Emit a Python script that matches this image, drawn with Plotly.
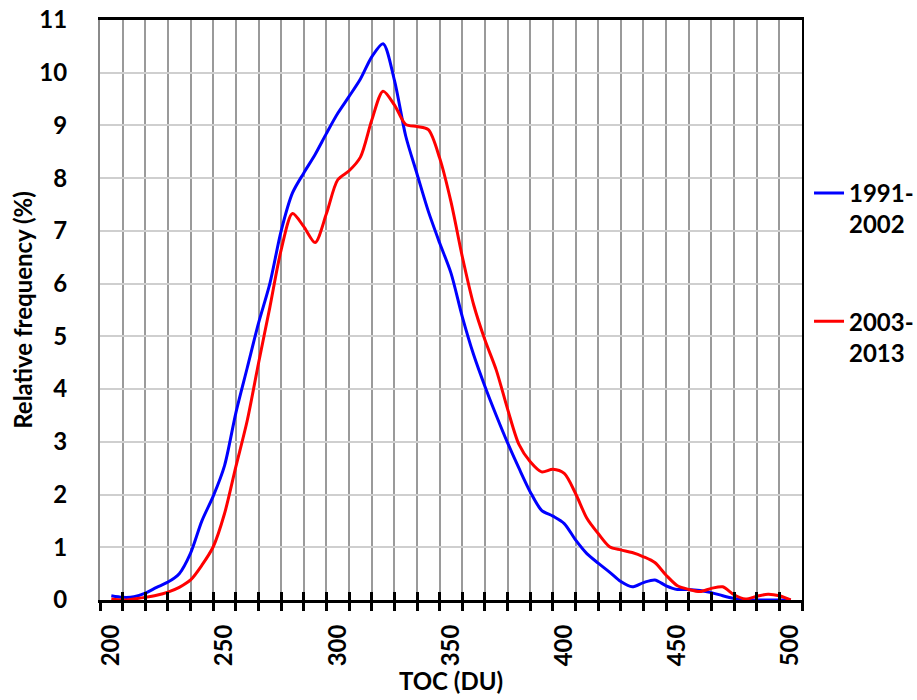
import plotly.graph_objects as go

toc = list(range(200, 505, 5))

freq_1991_2002 = [0.08, 0.05, 0.06, 0.13, 0.24, 0.34, 0.50, 0.89, 1.50, 1.97,
                  2.55, 3.55, 4.40, 5.25, 6.00, 7.00, 7.72, 8.10, 8.45, 8.85,
                  9.23, 9.55, 9.88, 10.30, 10.55, 9.86, 8.80, 8.08, 7.37, 6.77,
                  6.20, 5.37, 4.65, 4.05, 3.50, 2.98, 2.50, 2.05, 1.70, 1.59,
                  1.45, 1.14, 0.88, 0.70, 0.53, 0.35, 0.25, 0.33, 0.38, 0.27,
                  0.20, 0.20, 0.18, 0.14, 0.08, 0.03, 0.00, 0.00, 0.00, 0.00, 0.00]

freq_2003_2013 = [0.02, 0.00, 0.02, 0.05, 0.09, 0.15, 0.24, 0.38, 0.66, 1.01,
                  1.64, 2.53, 3.40, 4.49, 5.55, 6.64, 7.33, 7.08, 6.78, 7.33,
                  7.97, 8.14, 8.40, 9.10, 9.65, 9.39, 9.02, 8.98, 8.92, 8.38,
                  7.55, 6.51, 5.60, 4.93, 4.36, 3.62, 2.95, 2.62, 2.43, 2.48,
                  2.40, 2.02, 1.55, 1.26, 1.01, 0.95, 0.90, 0.82, 0.71, 0.47,
                  0.27, 0.20, 0.16, 0.22, 0.25, 0.10, 0.02, 0.07, 0.11, 0.08, 0.00]

x_labels = [200, 250, 300, 350, 400, 450, 500]

FONT = "Lato"
BOLD = dict(family=FONT, size=24, color="black", weight="bold")

fig = go.Figure()
fig.add_trace(go.Scatter(x=toc, y=freq_1991_2002, mode="lines", name="1991-<br>2002",
                         line=dict(color="#0000FF", width=3, shape="spline", smoothing=0.8),
                         legendgroup="a", xaxis="x", yaxis="y"))
fig.add_trace(go.Scatter(x=toc, y=freq_2003_2013, mode="lines", name="2003-<br>2013",
                         line=dict(color="#FF0000", width=3, shape="spline", smoothing=0.8),
                         legendgroup="b", xaxis="x2", yaxis="y2"))

fig.update_layout(
    width=917, height=700,
    margin=dict(l=100, r=115, t=20, b=100, autoexpand=False),
    paper_bgcolor="white", plot_bgcolor="white",
    font=BOLD,
    showlegend=True,
    legend=dict(x=1.01, xanchor="left", y=0.74, yanchor="top", valign="top",
                tracegroupgap=63, font=BOLD,
                bgcolor="rgba(0,0,0,0)", borderwidth=0),
    xaxis=dict(range=[195, 505], tickmode="array", tickvals=x_labels,
               ticktext=[str(v) for v in x_labels], tickangle=-90,
               ticks="outside", ticklen=12, tickcolor="rgba(0,0,0,0)",
               showgrid=False, tickfont=BOLD,
               minor=dict(tickmode="linear", tick0=195, dtick=10, ticks="outside",
                          ticklen=8, tickwidth=3, tickcolor="black",
                          showgrid=True, gridcolor="#9a9a9a", gridwidth=1.5),
               showline=True, linecolor="black", linewidth=3, mirror=True,
               zeroline=False, automargin=False,
               title=dict(text="TOC (DU)", font=BOLD, standoff=0)),
    xaxis2=dict(range=[195, 505], overlaying="x", anchor="y2", side="bottom",
                tickmode="linear", tick0=195, dtick=10, showticklabels=False,
                ticks="inside", ticklen=8, tickwidth=3, tickcolor="black",
                showgrid=False, showline=False, zeroline=False, automargin=False),
    yaxis=dict(range=[0, 11], tickmode="linear", tick0=0, dtick=1,
               showgrid=True, gridcolor="#cfcfcf", gridwidth=1.5,
               showline=True, linecolor="#8a8a8a", linewidth=2, ticks="",
               ticklabelstandoff=26, zeroline=False, automargin=False,
               tickfont=BOLD,
               title=dict(text="Relative frequency (%)", font=BOLD, standoff=0)),
    yaxis2=dict(range=[0, 11], overlaying="y", anchor="x2", side="right",
                showticklabels=False, showgrid=False, ticks="",
                showline=True, linecolor="black", linewidth=2, zeroline=False,
                automargin=False),
)

fig.write_html("out.html")
